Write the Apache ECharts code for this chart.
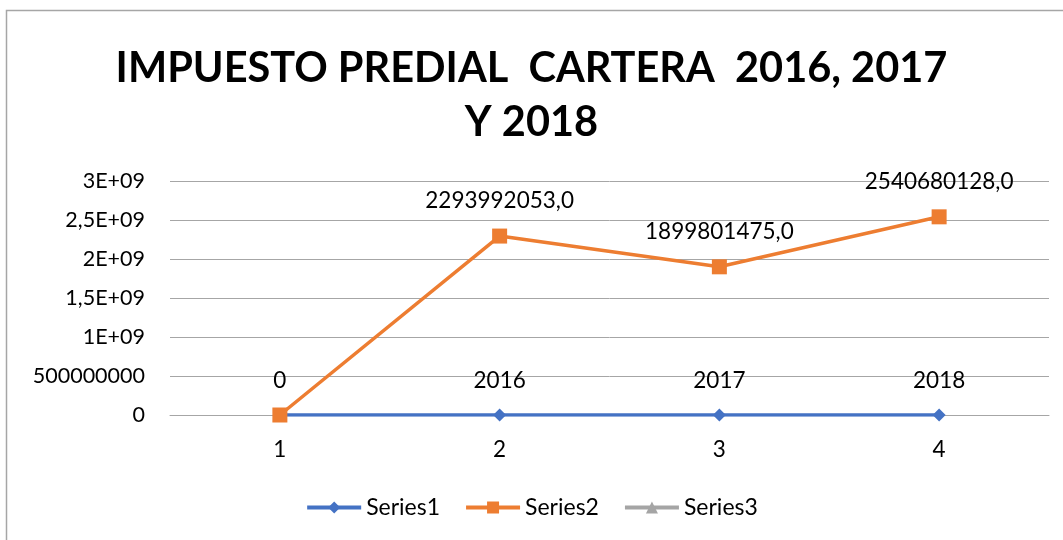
<!DOCTYPE html>
<html>
<head>
<meta charset="utf-8">
<script src="https://cdn.jsdelivr.net/npm/echarts@6/dist/echarts.min.js"></script>
<style>
  html, body { margin: 0; padding: 0; background: #fff; }
  #chart { width: 1063px; height: 540px; }
</style>
</head>
<body>
<div id="chart"></div>
<script>
// datos del grafico
var categorias = ['1', '2', '3', '4'];
var serie1 = [0, 2016, 2017, 2018];
var serie2 = [0, 2293992053, 1899801475, 2540680128];
var serie3 = [];
var ticksY = ['0', '500000000', '1E+09', '1,5E+09', '2E+09', '2,5E+09', '3E+09'];

var fuente = 'Lato, "Open Sans", sans-serif';
var chart = echarts.init(document.getElementById('chart'));

var option = {
    backgroundColor: '#fff',
    animation: false,
    // marco exterior
    graphic: [{
        type: 'rect',
        shape: { x: 6.5, y: 10.5, width: 1100, height: 600 },
        style: { fill: 'none', stroke: '#a6a6a6', lineWidth: 1.5 },
        silent: true
    }],
    title: {
        text: 'IMPUESTO PREDIAL  CARTERA  2016, 2017\nY 2018',
        left: 'center',
        top: 42,
        padding: [0, 0, 0, 20],
        textStyle: {
            fontFamily: fuente,
            fontWeight: 'bold',
            fontSize: 41.5,
            lineHeight: 54,
            color: '#000'
        }
    },
    legend: {
        bottom: 16,
        left: 'center',
        itemWidth: 54,
        itemHeight: 15,
        itemGap: 24,
        lineStyle: { width: 4 },
        textStyle: { fontFamily: fuente, fontSize: 23, color: '#000' },
        data: ['Series1', 'Series2', 'Series3']
    },
    grid: { left: 170, right: 14, top: 181, bottom: 125 },
    xAxis: {
        type: 'category',
        data: categorias,
        boundaryGap: true,
        axisLine: { lineStyle: { color: '#a6a6a6', width: 1 } },
        axisTick: { show: false },
        axisLabel: { fontFamily: fuente, fontSize: 22.5, color: '#000', margin: 23 }
    },
    yAxis: {
        type: 'value',
        min: 0,
        max: 3000000000,
        interval: 500000000,
        axisLine: { show: false },
        axisTick: { show: false },
        splitLine: { lineStyle: { color: '#a6a6a6', width: 1 } },
        axisLabel: {
            fontFamily: fuente, fontSize: 21.5, color: '#000', margin: 25,
            formatter: function (v) { return ticksY[Math.round(v / 500000000)]; }
        }
    },
    series: [
        {
            name: 'Series1',
            type: 'line',
            data: serie1,
            symbol: 'diamond',
            symbolSize: 13,
            itemStyle: { color: '#4472c4' },
            lineStyle: { width: 3.5, color: '#4472c4' },
            label: {
                show: true, position: 'top', distance: 16,
                fontFamily: fuente, fontSize: 22.5, color: '#000'
            }
        },
        {
            name: 'Series2',
            type: 'line',
            data: serie2,
            symbol: 'rect',
            symbolSize: 15,
            itemStyle: { color: '#ed7d31' },
            lineStyle: { width: 3.5, color: '#ed7d31' },
            label: {
                show: true, position: 'top', distance: 16,
                fontFamily: fuente, fontSize: 22.5, color: '#000',
                formatter: function (p) { return p.value === 0 ? '' : p.value + ',0'; }
            }
        },
        {
            name: 'Series3',
            type: 'line',
            data: serie3,
            symbol: 'triangle',
            symbolSize: 13,
            itemStyle: { color: '#a5a5a5' },
            lineStyle: { width: 3.5, color: '#a5a5a5' }
        }
    ]
};

chart.setOption(option);
</script>
</body>
</html>
